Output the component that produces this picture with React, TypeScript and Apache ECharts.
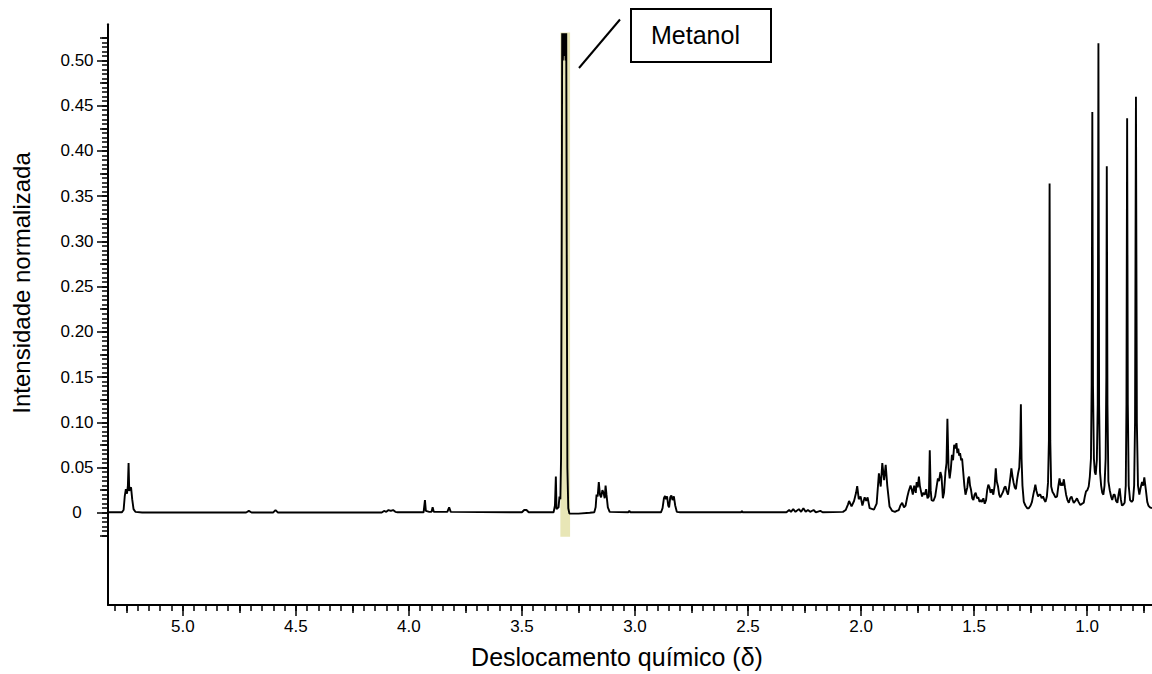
import React, { useEffect, useRef } from "react";
import * as echarts from "echarts";

const FONT = "'Liberation Sans', Arial, Helvetica, sans-serif";

// Axis ranges (chemical shift, ppm; intensity)
const X_MIN = 0.713;
const X_MAX = 5.331;
const Y_MIN = -0.102;
const Y_MAX = 0.54;

// Tick positions
const xMajorTicks = [5.0, 4.5, 4.0, 3.5, 3.0, 2.5, 2.0, 1.5, 1.0];
const xMediumTicks = [5.25, 4.75, 4.25, 3.75, 3.25, 2.75, 2.25, 1.75, 1.25, 0.75];
const xMinorTicks = Array.from({ length: 92 }, (_, i) => +(0.75 + i * 0.05).toFixed(2));
const yMajorTicks = [0, 0.05, 0.1, 0.15, 0.2, 0.25, 0.3, 0.35, 0.4, 0.45, 0.5];
const yMediumTicks = [-0.025, 0.025, 0.075, 0.125, 0.175, 0.225, 0.275, 0.325, 0.375, 0.425, 0.475, 0.525];
const yMinorTicks = Array.from({ length: 111 }, (_, i) => +(-0.025 + i * 0.005).toFixed(3));

// Spectrum segments: [ppm, normalized intensity]
const segLowField: [number, number][] = [
  [5.331, 0.0005], [5.27, 0.0005], [5.262, 0.003], [5.257, 0.018], [5.252, 0.026], [5.247, 0.021],
  [5.243, 0.03], [5.24, 0.055], [5.237, 0.024], [5.233, 0.027], [5.229, 0.028], [5.224, 0.015],
  [5.218, 0.004], [5.21, 0.001], [5.18, 0.0003], [4.72, 0.0003], [4.708, 0.002], [4.696, 0.0003],
  [4.6, 0.0003], [4.59, 0.003], [4.58, 0.0003], [4.12, 0.0003], [4.11, 0.002], [4.1, 0.001],
  [4.09, 0.003], [4.08, 0.002], [4.07, 0.003], [4.06, 0.001], [4.05, 0.0005], [3.935, 0.0005],
  [3.929, 0.014], [3.925, 0.002], [3.91, 0.001], [3.9, 0.001], [3.895, 0.006], [3.89, 0.001],
  [3.83, 0.001], [3.822, 0.006], [3.815, 0.001], [3.5, 0.0005], [3.49, 0.003], [3.48, 0.003],
  [3.47, 0.0005], [3.36, 0.0005], [3.354, 0.008], [3.35, 0.04], [3.347, 0.004], [3.338, 0.006],
  [3.334, 0.018], [3.33, 0.015],
];

const segMethanol: [number, number][] = [
  [3.327, 0.06], [3.324, 0.3], [3.322, 0.53], [3.319, 0.5], [3.316, 0.53], [3.313, 0.505],
  [3.31, 0.53], [3.307, 0.5], [3.304, 0.53], [3.302, 0.3], [3.299, 0.05], [3.295, 0.005],
  [3.29, -0.001], [3.25, -0.001], [3.2, 0.0],
];

const segMidField: [number, number][] = [
  [3.18, 0.0005], [3.174, 0.006], [3.17, 0.02], [3.165, 0.018], [3.16, 0.034], [3.155, 0.02],
  [3.15, 0.017], [3.144, 0.025], [3.139, 0.022], [3.134, 0.016], [3.13, 0.03], [3.126, 0.02],
  [3.12, 0.006], [3.112, 0.001], [3.03, 0.0005], [3.025, 0.002], [3.02, 0.0005], [2.885, 0.0005],
  [2.878, 0.005], [2.872, 0.016], [2.867, 0.0185], [2.863, 0.015], [2.858, 0.018], [2.853, 0.008],
  [2.849, 0.006], [2.844, 0.017], [2.839, 0.019], [2.834, 0.014], [2.828, 0.018], [2.822, 0.008],
  [2.815, 0.001], [2.8, 0.0005], [2.53, 0.0005], [2.527, 0.002], [2.524, 0.0005], [2.33, 0.0005],
  [2.318, 0.003], [2.31, 0.001], [2.3, 0.004], [2.29, 0.001], [2.275, 0.004], [2.265, 0.001],
  [2.255, 0.005], [2.245, 0.001], [2.235, 0.003], [2.225, 0.001], [2.21, 0.003], [2.2, 0.0005],
  [2.18, 0.002], [2.17, 0.0005], [2.08, 0.001],
];

const segAliphaticA: [number, number][] = [
  [2.068, 0.003], [2.058, 0.009], [2.053, 0.013], [2.042, 0.007], [2.031, 0.013], [2.022, 0.022],
  [2.017, 0.0295], [2.01, 0.015], [2.002, 0.018], [1.994, 0.008], [1.984, 0.017], [1.977, 0.013],
  [1.971, 0.017], [1.962, 0.005], [1.943, 0.0035], [1.931, 0.01], [1.921, 0.0435], [1.913, 0.029],
  [1.906, 0.055], [1.898, 0.036], [1.891, 0.053], [1.884, 0.03], [1.874, 0.007], [1.862, 0.002],
  [1.85, 0.001], [1.842, 0.002], [1.833, 0.003], [1.826, 0.008], [1.818, 0.011], [1.81, 0.006],
  [1.803, 0.008], [1.795, 0.018], [1.789, 0.024], [1.781, 0.03], [1.776, 0.026], [1.771, 0.02],
  [1.765, 0.03], [1.758, 0.022], [1.754, 0.034], [1.749, 0.028], [1.744, 0.04], [1.74, 0.03],
  [1.736, 0.025], [1.73, 0.018], [1.725, 0.022], [1.718, 0.02], [1.712, 0.026], [1.706, 0.016],
  [1.7, 0.018], [1.696, 0.069], [1.692, 0.025], [1.688, 0.014], [1.68, 0.013], [1.672, 0.018],
  [1.665, 0.03], [1.66, 0.038], [1.655, 0.035], [1.649, 0.045], [1.644, 0.04], [1.638, 0.016],
  [1.633, 0.022], [1.627, 0.044], [1.622, 0.055], [1.618, 0.104], [1.613, 0.05], [1.608, 0.038],
  [1.603, 0.048], [1.598, 0.064], [1.593, 0.058], [1.588, 0.075], [1.583, 0.071], [1.578, 0.077],
  [1.574, 0.066], [1.57, 0.071], [1.566, 0.063], [1.562, 0.066], [1.557, 0.058], [1.553, 0.06],
  [1.548, 0.045], [1.543, 0.03], [1.538, 0.02], [1.534, 0.024], [1.53, 0.028], [1.526, 0.038],
  [1.522, 0.04], [1.518, 0.03], [1.514, 0.026], [1.508, 0.016], [1.503, 0.014], [1.498, 0.02],
  [1.493, 0.022], [1.487, 0.016], [1.481, 0.017], [1.476, 0.012], [1.47, 0.014], [1.465, 0.012],
  [1.459, 0.016], [1.453, 0.01], [1.447, 0.014], [1.442, 0.025], [1.437, 0.031], [1.432, 0.028],
  [1.427, 0.022], [1.421, 0.026], [1.415, 0.02], [1.409, 0.03], [1.404, 0.049], [1.4, 0.035],
  [1.394, 0.029], [1.389, 0.02], [1.384, 0.017], [1.378, 0.02], [1.372, 0.023], [1.366, 0.028],
  [1.361, 0.029], [1.356, 0.024], [1.35, 0.02], [1.344, 0.03], [1.339, 0.04], [1.335, 0.049],
  [1.33, 0.04], [1.325, 0.033], [1.32, 0.028], [1.315, 0.026], [1.31, 0.036], [1.305, 0.044],
  [1.3, 0.05], [1.296, 0.075], [1.293, 0.12], [1.29, 0.06], [1.286, 0.03], [1.28, 0.012],
];

const segAliphaticB: [number, number][] = [
  [1.273, 0.008], [1.265, 0.005], [1.258, 0.005], [1.25, 0.008], [1.244, 0.012], [1.238, 0.02],
  [1.233, 0.026], [1.229, 0.031], [1.224, 0.024], [1.217, 0.018], [1.212, 0.02], [1.207, 0.02],
  [1.201, 0.016], [1.195, 0.018], [1.189, 0.014], [1.184, 0.012], [1.178, 0.018], [1.173, 0.033],
  [1.169, 0.08], [1.166, 0.364], [1.163, 0.08], [1.159, 0.029], [1.153, 0.023], [1.148, 0.021],
  [1.14, 0.017], [1.133, 0.018], [1.127, 0.03], [1.122, 0.038], [1.117, 0.03], [1.113, 0.033],
  [1.108, 0.03], [1.103, 0.037], [1.098, 0.028], [1.093, 0.02], [1.087, 0.014], [1.081, 0.011],
  [1.075, 0.016], [1.069, 0.018], [1.064, 0.014], [1.059, 0.011], [1.052, 0.013], [1.045, 0.016],
  [1.038, 0.012], [1.03, 0.0085], [1.022, 0.01], [1.015, 0.011], [1.01, 0.018], [1.005, 0.0235],
  [0.999, 0.025], [0.993, 0.029], [0.988, 0.04], [0.983, 0.06], [0.98, 0.14], [0.977, 0.443],
  [0.974, 0.14], [0.97, 0.06], [0.966, 0.045], [0.962, 0.042], [0.957, 0.058], [0.953, 0.12],
  [0.95, 0.519], [0.947, 0.12], [0.943, 0.045], [0.938, 0.03], [0.933, 0.022], [0.928, 0.02],
  [0.923, 0.03], [0.918, 0.06], [0.915, 0.15], [0.913, 0.383], [0.91, 0.12], [0.906, 0.035],
  [0.9, 0.025], [0.894, 0.018], [0.889, 0.014], [0.883, 0.02], [0.878, 0.02], [0.872, 0.013],
  [0.866, 0.011], [0.861, 0.02], [0.856, 0.027], [0.851, 0.015], [0.846, 0.008], [0.84, 0.009],
  [0.834, 0.011], [0.829, 0.03], [0.826, 0.12], [0.823, 0.436], [0.82, 0.12], [0.816, 0.03],
  [0.81, 0.014], [0.803, 0.012], [0.797, 0.014], [0.792, 0.03], [0.788, 0.1], [0.784, 0.46],
  [0.78, 0.1], [0.775, 0.03], [0.769, 0.02], [0.763, 0.028], [0.757, 0.034], [0.752, 0.03],
  [0.747, 0.039], [0.74, 0.025], [0.734, 0.012], [0.729, 0.008], [0.722, 0.006], [0.713, 0.005],
];

// Highlighted methanol region: [ppm start, intensity bottom, ppm end, intensity top]
const methanolBand = [[3.33, -0.0265, 3.287, 0.531]];

const AXIS_COLOR = "#000";

function makeXAxis(ticks: number[], len: number, main: boolean) {
  return {
    type: "value",
    min: X_MIN,
    max: X_MAX,
    inverse: true,
    position: "bottom",
    axisLine: { show: main, onZero: false, lineStyle: { color: AXIS_COLOR, width: 2 } },
    axisTick: { show: true, customValues: ticks, length: len, lineStyle: { color: AXIS_COLOR, width: 1.5 } },
    axisLabel: main
      ? {
          show: true,
          customValues: xMajorTicks,
          formatter: (v: number) => v.toFixed(1),
          color: "#000",
          fontFamily: FONT,
          fontSize: 17,
          margin: 13,
        }
      : { show: false },
    splitLine: { show: false },
  };
}

function makeYAxis(ticks: number[], len: number, main: boolean) {
  return {
    type: "value",
    min: Y_MIN,
    max: Y_MAX,
    position: "left",
    axisLine: { show: main, onZero: false, lineStyle: { color: AXIS_COLOR, width: 2 } },
    axisTick: { show: true, customValues: ticks, length: len, lineStyle: { color: AXIS_COLOR, width: 1.5 } },
    axisLabel: main
      ? {
          show: true,
          customValues: yMajorTicks,
          formatter: (v: number) => (Math.abs(v) < 1e-9 ? "0" : v.toFixed(2)),
          color: "#000",
          fontFamily: FONT,
          fontSize: 17,
          align: "center",
          margin: 31,
        }
      : { show: false },
    splitLine: { show: false },
  };
}

export default function App() {
  const ref = useRef<HTMLDivElement>(null);

  useEffect(() => {
    if (!ref.current) return;
    const chart = echarts.init(ref.current, null, { renderer: "svg" });
    const spectrum = [...segLowField, ...segMethanol, ...segMidField, ...segAliphaticA, ...segAliphaticB];

    chart.setOption({
      animation: false,
      backgroundColor: "#fff",
      grid: { left: 108, right: 0, top: 24.3, bottom: 69 },
      xAxis: [
        makeXAxis(xMajorTicks, 11, true),
        makeXAxis(xMediumTicks, 8, false),
        makeXAxis(xMinorTicks, 6, false),
      ],
      yAxis: [
        makeYAxis(yMajorTicks, 11, true),
        makeYAxis(yMediumTicks, 8, false),
        makeYAxis(yMinorTicks, 6, false),
      ],
      series: [
        {
          type: "custom",
          name: "Metanol region",
          xAxisIndex: 0,
          yAxisIndex: 0,
          z: 1,
          silent: true,
          data: methanolBand,
          renderItem: (params: any, api: any) => {
            const p1 = api.coord([api.value(0), api.value(3)]);
            const p2 = api.coord([api.value(2), api.value(1)]);
            return {
              type: "rect",
              shape: {
                x: Math.min(p1[0], p2[0]),
                y: Math.min(p1[1], p2[1]),
                width: Math.abs(p2[0] - p1[0]),
                height: Math.abs(p2[1] - p1[1]),
              },
              style: { fill: "#e8e6b6" },
            };
          },
        },
        {
          type: "line",
          name: "Espectro",
          xAxisIndex: 0,
          yAxisIndex: 0,
          z: 3,
          showSymbol: false,
          symbol: "none",
          silent: true,
          data: spectrum,
          lineStyle: { color: "#000", width: 1.9 },
        },
      ],
      graphic: [
        {
          type: "line",
          shape: { x1: 579, y1: 68, x2: 620, y2: 19.5 },
          style: { stroke: "#000", lineWidth: 2 },
        },
        {
          type: "rect",
          shape: { x: 631, y: 9, width: 140, height: 53 },
          style: { fill: "#fff", stroke: "#000", lineWidth: 2 },
        },
        {
          type: "text",
          x: 695.5,
          y: 34.5,
          style: {
            text: "Metanol",
            font: `25px ${FONT}`,
            fill: "#000",
            textAlign: "center",
            textVerticalAlign: "middle",
          },
        },
        {
          type: "text",
          x: 21,
          y: 283,
          rotation: Math.PI / 2,
          style: {
            text: "Intensidade normalizada",
            font: `24px ${FONT}`,
            fill: "#000",
            textAlign: "center",
            textVerticalAlign: "middle",
          },
        },
        {
          type: "text",
          x: 617,
          y: 657,
          style: {
            text: "Deslocamento químico (δ)",
            font: `25px ${FONT}`,
            fill: "#000",
            textAlign: "center",
            textVerticalAlign: "middle",
          },
        },
      ],
    });

    return () => chart.dispose();
  }, []);

  return (
    <div
      ref={ref}
      style={{ position: "fixed", left: 0, top: 0, width: 1152, height: 674, background: "#fff" }}
    />
  );
}
